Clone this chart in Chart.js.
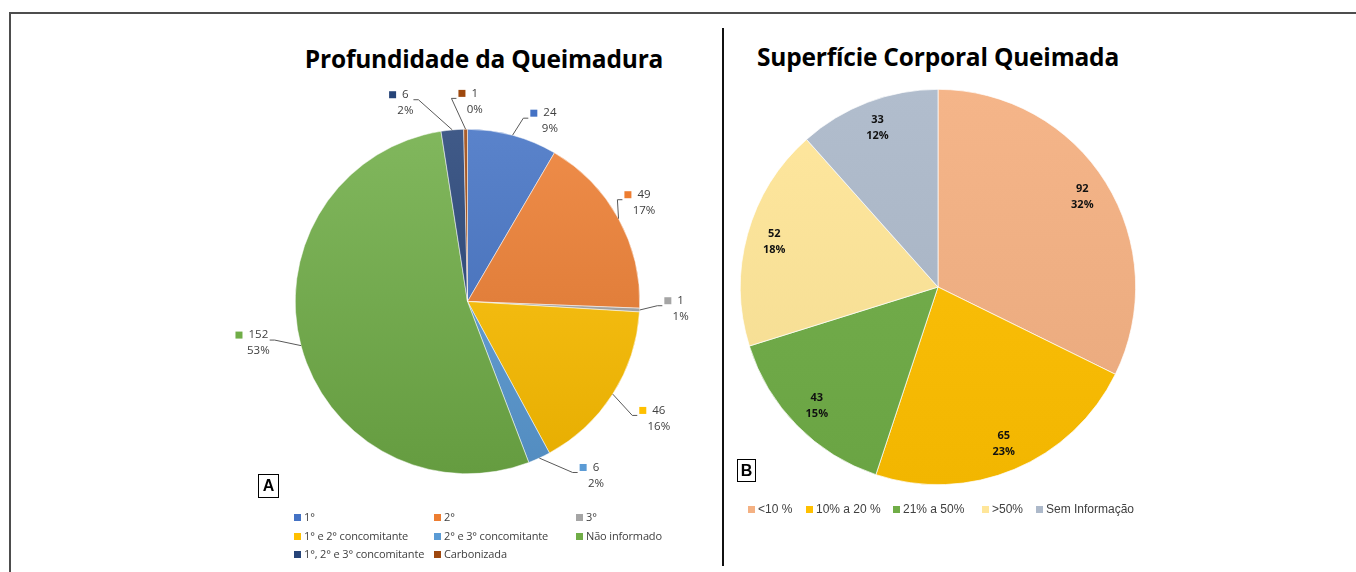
<!DOCTYPE html>
<html>
<head>
<meta charset="utf-8">
<script src="https://cdn.jsdelivr.net/npm/chart.js@4.4.1/dist/chart.umd.min.js"></script>
<style>
    body { margin: 0; width: 1356px; height: 572px; background: #fff; position: relative; overflow: hidden; font-family: 'Open Sans', sans-serif; }
    .frame { position: absolute; left: 9px; top: 12px; width: 1400px; height: 600px; border-top: 2px solid #4d4d4d; border-left: 2px solid #4d4d4d; }
    .divider { position: absolute; left: 722px; top: 28px; width: 2px; height: 538px; background: #111; }
    .title { position: absolute; font-weight: bold; font-size: 24.5px; color: #000; white-space: nowrap; transform: translateX(-50%); letter-spacing: -0.2px; }
    canvas { position: absolute; }
    .tag { position: absolute; border: 1px solid #000; font-family: 'Liberation Sans', sans-serif; font-weight: bold; font-size: 16px; text-align: center; box-sizing: border-box; }
    .legend { position: absolute; font-size: 11px; color: #404040; letter-spacing: -0.15px; }
    .legend .item { position: absolute; white-space: nowrap; }
    .legend .sw { display: inline-block; width: 7px; height: 7px; margin-right: 3px; vertical-align: 0px; }
    .legendB { font-family: 'Liberation Sans', sans-serif; font-size: 12px; letter-spacing: 0; }
</style>
</head>
<body>
<div class="frame"></div>
<div class="divider"></div>
<div class="title" style="left:484px; top:42px;">Profundidade da Queimadura</div>
<div class="title" style="left:938px; top:40px;">Superfície Corporal Queimada</div>
<canvas id="depthChart" width="500" height="430" style="left:218px; top:87px;"></canvas>
<canvas id="areaChart" width="420" height="420" style="left:728px; top:77px;"></canvas>
<div class="tag" style="left:258px; top:474px; width:21px; height:24px; line-height:22px;">A</div>
<div class="tag" style="left:737px; top:459px; width:19px; height:23px; line-height:21px;">B</div>
<div class="legend" id="legendA"></div>
<div class="legend legendB" id="legendB"></div>

<script>
// Profundidade da Queimadura
const depthLabels = ['1°', '2°', '3°', '1° e 2° concomitante', '2° e 3° concomitante', 'Não informado', '1°, 2° e 3° concomitante', 'Carbonizada'];
const depthValues = [24, 49, 1, 46, 6, 152, 6, 1];
const depthPercents = ['9%', '17%', '1%', '16%', '2%', '53%', '2%', '0%'];
const depthColors = ['#4472C4', '#ED7D31', '#A5A5A5', '#FFC000', '#5B9BD5', '#70AD47', '#264478', '#9E480E'];

// Superfície Corporal Queimada
const areaLabels = ['<10 %', '10% a 20 %', '21% a 50%', '>50%', 'Sem Informação'];
const areaValues = [92, 65, 43, 52, 33];
const areaPercents = ['32%', '23%', '15%', '18%', '12%'];
const areaColors = ['#F4B183', '#FFC000', '#70AD47', '#FFE699', '#ADB9CA'];

// where each outside label sits: [turn from slice middle in degrees, gap beyond the rim in px]
const depthLabelPlace = [[9.4, 26], [-0.5, 30], [-0.9, 41], [-1.1, 52], [-11.8, 44], [3.6, 41], [-12.3, 36], [2.7, 28]];

const shade = (hex, amt) => {
    const n = parseInt(hex.slice(1), 16);
    const t = amt < 0 ? 0 : 255, p = Math.abs(amt);
    const mix = c => Math.round(c + (t - c) * p);
    return `rgb(${mix(n >> 16)}, ${mix((n >> 8) & 255)}, ${mix(n & 255)})`;
};

const gradientFill = (colors, lift, drop) => (ctx) => {
    const chart = ctx.chart;
    const area = chart.chartArea;
    const base = colors[ctx.dataIndex];
    if (!area) return base;
    const g = chart.ctx.createLinearGradient(0, area.top, 0, area.bottom);
    g.addColorStop(0, shade(base, lift));
    g.addColorStop(1, shade(base, -drop));
    return g;
};

const outsideLabels = {
    id: 'outsideLabels',
    afterDatasetsDraw(chart) {
        const ctx = chart.ctx;
        const meta = chart.getDatasetMeta(0);
        ctx.save();
        ctx.font = '11.5px "Open Sans"';
        ctx.textBaseline = 'middle';
        ctx.textAlign = 'center';
        meta.data.forEach((arc, i) => {
            const mid = (arc.startAngle + arc.endAngle) / 2;
            const r = arc.outerRadius;
            const [turn, gap] = depthLabelPlace[i];
            const a = mid + turn * Math.PI / 180;
            const lx = arc.x + Math.cos(a) * (r + gap);
            const ly = arc.y + Math.sin(a) * (r + gap);
            const val = String(depthValues[i]);
            const w = Math.max(ctx.measureText(val).width, ctx.measureText(depthPercents[i]).width);
            const sqX = lx - ctx.measureText(val).width / 2 - 13;

            // leader line
            const sx = arc.x + Math.cos(mid) * r;
            const sy = arc.y + Math.sin(mid) * r;
            const right = Math.cos(a) >= 0;
            const ex = right ? sqX - 7 : lx + w / 2 + 5;
            const ey = ly - 3;
            ctx.strokeStyle = '#595959';
            ctx.lineWidth = 1;
            ctx.beginPath();
            ctx.moveTo(sx, sy);
            ctx.lineTo(ex, ey);
            ctx.lineTo(ex + (right ? 5 : -5), ey);
            ctx.stroke();

            ctx.fillStyle = depthColors[i];
            ctx.fillRect(sqX, ly - 11.5, 7, 7);
            ctx.fillStyle = '#404040';
            ctx.fillText(val, lx, ly - 8);
            ctx.fillText(depthPercents[i], lx, ly + 8);
        });
        ctx.restore();
    }
};

const insideLabels = {
    id: 'insideLabels',
    afterDatasetsDraw(chart) {
        const ctx = chart.ctx;
        const meta = chart.getDatasetMeta(0);
        ctx.save();
        ctx.font = 'bold 11px "Open Sans"';
        ctx.textAlign = 'center';
        ctx.textBaseline = 'middle';
        ctx.fillStyle = '#111';
        meta.data.forEach((arc, i) => {
            const mid = (arc.startAngle + arc.endAngle) / 2;
            const d = arc.outerRadius * 0.86;
            const x = arc.x + Math.cos(mid) * d;
            const y = arc.y + Math.sin(mid) * d;
            ctx.fillText(String(areaValues[i]), x, y - 8);
            ctx.fillText(areaPercents[i], x, y + 8);
        });
        ctx.restore();
    }
};

const pieOptions = (padding) => ({
    responsive: false,
    animation: false,
    layout: { padding: padding },
    plugins: { legend: { display: false }, tooltip: { enabled: false } },
});

new Chart(document.getElementById('depthChart'), {
    type: 'pie',
    data: {
        labels: depthLabels,
        datasets: [{
            data: depthValues,
            backgroundColor: gradientFill(depthColors, 0.12, 0.1),
            borderColor: '#ffffff',
            borderWidth: 0.5,
        }]
    },
    options: pieOptions({ left: 77, right: 78, top: 42, bottom: 43 }),
    plugins: [outsideLabels],
});

new Chart(document.getElementById('areaChart'), {
    type: 'pie',
    data: {
        labels: areaLabels,
        datasets: [{
            data: areaValues,
            backgroundColor: gradientFill(areaColors, 0.05, 0.05),
            borderColor: '#ffffff',
            borderWidth: 0.7,
        }]
    },
    options: pieOptions({ left: 12, right: 12, top: 12, bottom: 12 }),
    plugins: [insideLabels],
});

// legends
const legendA = document.getElementById('legendA');
const colX = [294, 434, 576];
depthLabels.forEach((lab, i) => {
    const el = document.createElement('div');
    el.className = 'item';
    el.style.left = colX[i % 3] + 'px';
    el.style.top = (509 + Math.floor(i / 3) * 18.5) + 'px';
    el.innerHTML = `<span class="sw" style="background:${depthColors[i]}"></span>${lab}`;
    legendA.appendChild(el);
});

const legendB = document.getElementById('legendB');
const itemX = [748, 806, 893, 982, 1036];
areaLabels.forEach((lab, i) => {
    const el = document.createElement('div');
    el.className = 'item';
    el.style.left = itemX[i] + 'px';
    el.style.top = '502px';
    el.innerHTML = `<span class="sw" style="background:${areaColors[i]}"></span>`;
    el.appendChild(document.createTextNode(lab));
    legendB.appendChild(el);
});
</script>
</body>
</html>
